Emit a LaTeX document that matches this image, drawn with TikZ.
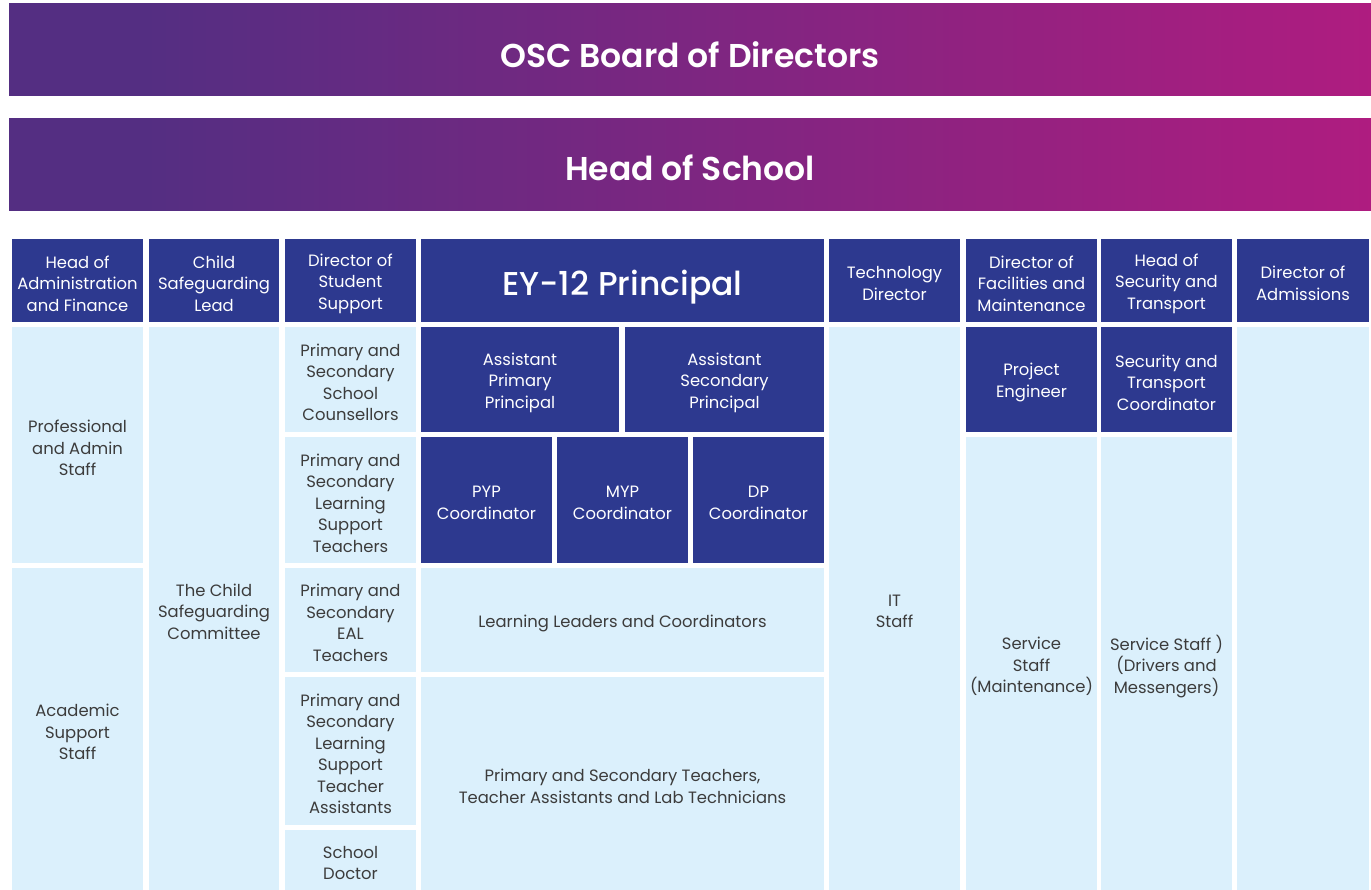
\documentclass[tikz,border=0pt]{standalone}
\usepackage{fontspec}
\setmainfont{Poppins}[BoldFont={Poppins SemiBold}]
\newfontfamily\medfont{Poppins Medium}
\definecolor{darkbox}{RGB}{45,57,143}
\definecolor{lightbox}{RGB}{219,240,252}
\definecolor{txtgray}{RGB}{60,60,60}
\definecolor{bpurple}{RGB}{84,46,130}
\definecolor{bmagenta}{RGB}{197,24,127}
\pgfdeclarehorizontalshading{bannershade}{100bp}{color(0bp)=(bpurple); color(30bp)=(bpurple); color(86bp)=(bmagenta); color(100bp)=(bmagenta)}
\tikzset{
  boxbase/.style={inner sep=0pt, outer sep=0pt},
  dark/.style={boxbase, fill=darkbox},
  light/.style={boxbase, fill=lightbox},
  darktext/.style={inner sep=0pt, align=center, text=white, font=\fontsize{16.4}{21.5}\selectfont},
  lighttext/.style={inner sep=0pt, align=center, text=txtgray, font=\fontsize{16.4}{21.5}\selectfont},
  banner/.style={inner sep=0pt, outer sep=0pt, shading=bannershade},
  bannertext/.style={inner sep=0pt, text=white, font=\fontsize{33}{38}\selectfont\bfseries}
}
\newcommand\cellbox[7]{%
  \node[#1, minimum width={(#5-#3)*1pt}, minimum height={(#6-#4)*1pt}] (#2) at ({(#3+#5)/2},{(#4+#6)/2}) {};
  \node[#1text] (#2-t) at ([yshift=-3pt]#2.center) {#7};}
\begin{document}
\begin{tikzpicture}[x=1pt,y=-1pt]
\useasboundingbox (0,0) rectangle (1371,890);
% banners
\node[banner, minimum width=1362pt, minimum height=92pt] (board) at (690,50) {};
\node[bannertext] (boardt) at (690,55) {OSC Board of Directors};
\node[banner, minimum width=1362pt, minimum height=92pt] (head) at (690,165) {};
\node[bannertext] (headt) at (690,168) {Head of School};
% header row
\cellbox{dark}{h1}{12}{239}{143}{322}{Head of\\Administration\\and Finance}
\cellbox{dark}{h2}{149}{239}{279}{322}{Child\\Safeguarding\\Lead}
\cellbox{dark}{h3}{285}{239}{416}{322}{Director of\\Student\\Support}
\node[dark, minimum width=403pt, minimum height=83pt] (h4) at (622.5,280.5) {};
\node[darktext, font=\fontsize{33}{38}\medfont] (h4-t) at ([yshift=-7pt]h4.center) {EY-12 Principal};
\cellbox{dark}{h5}{829}{239}{960}{322}{Technology\\Director}
\cellbox{dark}{h6}{966}{239}{1097}{322}{Director of\\Facilities and\\Maintenance}
\cellbox{dark}{h7}{1101}{239}{1232}{322}{Head of\\Security and\\Transport}
\cellbox{dark}{h8}{1237}{239}{1369}{322}{Director of\\Admissions}
% column 1
\cellbox{light}{c1a}{12}{327}{143}{563}{Professional\\and Admin\\Staff}
\cellbox{light}{c1b}{12}{568}{143}{890}{Academic\\Support\\Staff}
% column 2
\cellbox{light}{c2}{149}{327}{279}{890}{The Child\\Safeguarding\\Committee}
% column 3
\cellbox{light}{c3a}{285}{327}{416}{432}{Primary and\\Secondary\\School\\Counsellors}
\cellbox{light}{c3b}{285}{437}{416}{563}{Primary and\\Secondary\\Learning\\Support\\Teachers}
\cellbox{light}{c3c}{285}{568}{416}{672}{Primary and\\Secondary\\EAL\\Teachers}
\cellbox{light}{c3d}{285}{677}{416}{825}{Primary and\\Secondary\\Learning\\Support\\Teacher\\Assistants}
\cellbox{light}{c3e}{285}{830}{416}{890}{School\\Doctor}
% column 4 (EY-12)
\cellbox{dark}{app}{421}{327}{619}{432}{Assistant\\Primary\\Principal}
\cellbox{dark}{asp}{625}{327}{824}{432}{Assistant\\Secondary\\Principal}
\cellbox{dark}{pyp}{421}{437}{552}{563}{PYP\\Coordinator}
\cellbox{dark}{myp}{557}{437}{688}{563}{MYP\\Coordinator}
\cellbox{dark}{dp}{693}{437}{824}{563}{DP\\Coordinator}
\cellbox{light}{llc}{421}{568}{824}{672}{Learning Leaders and Coordinators}
\cellbox{light}{pst}{421}{677}{824}{890}{Primary and Secondary Teachers,\\Teacher Assistants and Lab Technicians}
% column 5
\cellbox{light}{it}{829}{327}{960}{890}{IT\\Staff}
% column 6
\cellbox{dark}{pe}{966}{327}{1097}{432}{Project\\Engineer}
\cellbox{light}{ssm}{966}{437}{1097}{890}{Service\\Staff\\(Maintenance)}
% column 7
\cellbox{dark}{stc}{1101}{327}{1232}{432}{Security and\\Transport\\Coordinator}
\cellbox{light}{ssd}{1101}{437}{1232}{890}{Service Staff )\\(Drivers and\\Messengers)}
% column 8
\node[light, minimum width=132pt, minimum height=563pt] (adm) at (1303,608.5) {};
\end{tikzpicture}
\end{document}
